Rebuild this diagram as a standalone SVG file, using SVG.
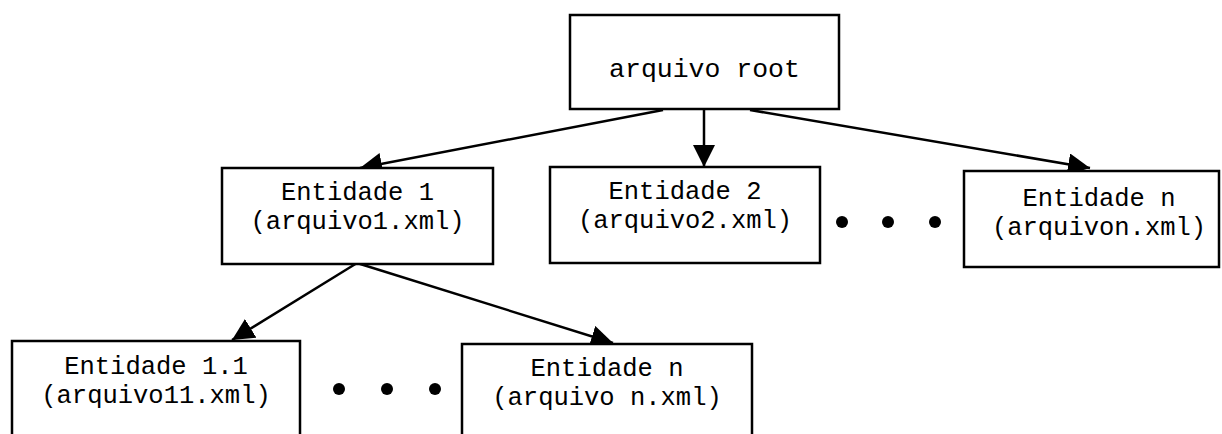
<svg xmlns="http://www.w3.org/2000/svg" width="1222" height="434" viewBox="0 0 1222 434">
  <style>
    .box { fill: #ffffff; stroke: #000000; stroke-width: 2.5; }
    .lbl { font-family: "Liberation Mono", "Courier New", monospace; font-size: 25.5px; fill: #000000; text-anchor: middle; }
    .edge { fill: none; stroke: #000000; stroke-width: 2.5; marker-end: url(#arrow); }
    .dot { fill: #000000; }
  </style>
  <defs>
    <marker id="arrow" markerUnits="userSpaceOnUse" markerWidth="22" markerHeight="22" viewBox="0 0 20 20" refX="20" refY="10" orient="auto">
      <path d="M0,0 L20,10 L0,20 Z" fill="#000000"/>
    </marker>
  </defs>

  <rect width="1222" height="434" fill="#ffffff"/>

  <!-- connectors -->
  <g id="connectors">
    <line class="edge" x1="663" y1="110" x2="360" y2="168"/>
    <line class="edge" x1="704" y1="110" x2="704" y2="167"/>
    <line class="edge" x1="750" y1="110" x2="1090" y2="168"/>
    <line class="edge" x1="357" y1="263" x2="232" y2="340"/>
    <line class="edge" x1="357" y1="263" x2="613" y2="343"/>
  </g>

  <g id="root">
    <rect class="box" x="570" y="15" width="269" height="94"/>
    <text class="lbl" x="704.5" y="77" style="font-size:26.5px">arquivo root</text>
  </g>

  <g id="entidade1">
    <rect class="box" x="222" y="168" width="271" height="96"/>
    <text class="lbl" x="357.5" y="200">Entidade 1</text>
    <text class="lbl" x="357.5" y="229">(arquivo1.xml)</text>
  </g>

  <g id="entidade2">
    <rect class="box" x="550" y="167" width="270" height="96"/>
    <text class="lbl" x="685" y="199">Entidade 2</text>
    <text class="lbl" x="685" y="228">(arquivo2.xml)</text>
  </g>

  <g id="dots-top">
    <circle class="dot" cx="842" cy="222" r="6"/>
    <circle class="dot" cx="888" cy="222" r="6"/>
    <circle class="dot" cx="935" cy="222" r="6"/>
  </g>

  <g id="entidadeN">
    <rect class="box" x="964" y="171" width="255" height="96"/>
    <text class="lbl" x="1099" y="206">Entidade n</text>
    <text class="lbl" x="1099" y="235">(arquivon.xml)</text>
  </g>

  <g id="entidade1-1">
    <rect class="box" x="12" y="341" width="288" height="110"/>
    <text class="lbl" x="156" y="374">Entidade 1.1</text>
    <text class="lbl" x="156" y="403">(arquivo11.xml)</text>
  </g>

  <g id="dots-bottom">
    <circle class="dot" cx="339" cy="389" r="6"/>
    <circle class="dot" cx="387" cy="389" r="6"/>
    <circle class="dot" cx="435" cy="389" r="6"/>
  </g>

  <g id="entidade1-n">
    <rect class="box" x="462" y="344" width="290" height="110"/>
    <text class="lbl" x="607" y="376">Entidade n</text>
    <text class="lbl" x="607" y="405">(arquivo n.xml)</text>
  </g>
</svg>
